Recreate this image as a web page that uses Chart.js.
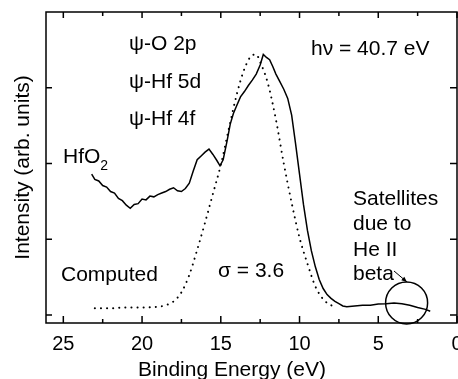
<!DOCTYPE html>
<html>
<head>
<meta charset="utf-8">
<script src="https://cdn.jsdelivr.net/npm/chart.js@4.4.1/dist/chart.umd.min.js"></script>
<style>
  body { margin: 0; background: #fff; }
</style>
</head>
<body>
<canvas id="spectrum" width="458" height="379"></canvas>
<script>
// measured HfO2 spectrum (binding energy in eV, intensity in arb. units)
const measuredEnergy = [
  23.2, 23.0, 22.75, 22.5, 22.25, 22.0, 21.75, 21.5, 21.25, 21.0,
  20.75, 20.5, 20.25, 20.0, 19.75, 19.5, 19.25, 19.0, 18.75, 18.5,
  18.25, 18.0, 17.75, 17.5, 17.25, 17.0, 16.75, 16.5, 16.25, 16.0,
  15.75, 15.5, 15.25, 15.05, 14.85, 14.6, 14.4, 14.2, 14.0, 13.75,
  13.5, 13.25, 13.0, 12.75, 12.5, 12.3, 12.1, 11.9, 11.7, 11.5,
  11.25, 11.0, 10.75, 10.5, 10.25, 10.0, 9.75, 9.5, 9.25, 9.0,
  8.75, 8.5, 8.25, 8.0, 7.75, 7.5, 7.25, 7.0, 6.5, 6.0,
  5.5, 5.0, 4.5, 4.0, 3.5, 3.0, 2.5, 2.0, 1.7
]
const measuredIntensity = [
  1.86, 1.79, 1.77, 1.71, 1.69, 1.63, 1.61, 1.54, 1.51, 1.45,
  1.41, 1.46, 1.47, 1.53, 1.52, 1.57, 1.56, 1.59, 1.61, 1.63,
  1.66, 1.68, 1.64, 1.63, 1.67, 1.74, 1.90, 2.05, 2.10, 2.15,
  2.19, 2.12, 2.04, 1.97, 2.05, 2.30, 2.52, 2.66, 2.76, 2.88,
  2.95, 3.03, 3.10, 3.18, 3.30, 3.44, 3.40, 3.37, 3.28, 3.18,
  3.08, 2.98, 2.86, 2.64, 2.26, 1.86, 1.46, 1.12, 0.85, 0.64,
  0.47, 0.35, 0.27, 0.22, 0.18, 0.15, 0.12, 0.11, 0.12, 0.13,
  0.13, 0.145, 0.15, 0.16, 0.15, 0.13, 0.10, 0.075, 0.05
]

// computed curve (sigma = 3.6)
const computedEnergy = [
  23.0, 22.0, 21.0, 20.0, 19.0, 18.5, 18.0, 17.5, 17.0, 16.5,
  16.0, 15.5, 15.0, 14.5, 14.0, 13.5, 13.0, 12.75, 12.5, 12.0,
  11.5, 11.0, 10.5, 10.0, 9.5, 9.0, 8.5, 8.0, 7.75
]
const computedIntensity = [
  0.09, 0.09, 0.10, 0.10, 0.11, 0.13, 0.18, 0.30, 0.53, 0.86,
  1.22, 1.60, 1.98, 2.45, 2.90, 3.25, 3.43, 3.44, 3.34, 3.05,
  2.58, 2.00, 1.48, 1.02, 0.68, 0.38, 0.21, 0.13, 0.12
]

const xTicks = [25, 20, 15, 10, 5, 0]
const xMinorTicks = [22.5, 17.5, 12.5, 7.5, 2.5]
const yTicks = [0, 1, 2, 3]

const FONT = '"Liberation Sans", Arial, Helvetica, sans-serif'
Chart.defaults.color = '#000'
Chart.defaults.font.family = FONT

const toPoints = (xs, ys) => xs.map((e, i) => ({ x: e, y: ys[i] }))

// box + inward ticks on all four sides
const frame = {
  id: 'frame',
  afterDraw(chart) {
    const { ctx, chartArea: a, scales: { x, y } } = chart
    ctx.save()
    ctx.strokeStyle = '#000'
    ctx.lineWidth = 1.5
    ctx.strokeRect(a.left, a.top, a.right - a.left, a.bottom - a.top)
    ctx.beginPath()
    xTicks.forEach(v => {
      const px = x.getPixelForValue(v)
      ctx.moveTo(px, a.bottom); ctx.lineTo(px, a.bottom - 7)
      ctx.moveTo(px, a.top); ctx.lineTo(px, a.top + 6)
    })
    xMinorTicks.forEach(v => {
      const px = x.getPixelForValue(v)
      ctx.moveTo(px, a.bottom); ctx.lineTo(px, a.bottom - 4)
      ctx.moveTo(px, a.top); ctx.lineTo(px, a.top + 4)
    })
    yTicks.forEach(v => {
      const py = y.getPixelForValue(v)
      ctx.moveTo(a.left, py); ctx.lineTo(a.left + 6, py)
      ctx.moveTo(a.right, py); ctx.lineTo(a.right - 7, py)
    })
    ctx.stroke()
    ctx.restore()
  }
}

// labels, circle and arrow
const notes = {
  id: 'notes',
  afterDraw(chart) {
    const { ctx, scales: { x, y } } = chart
    ctx.save()
    ctx.fillStyle = '#000'
    ctx.textBaseline = 'alphabetic'
    ctx.textAlign = 'left'
    ctx.font = '21px ' + FONT
    ctx.fillText('ψ-O 2p', 129, 50)
    ctx.fillText('ψ-Hf 5d', 129, 88)
    ctx.fillText('ψ-Hf 4f', 129, 125)
    ctx.fillText('hν = 40.7 eV', 311, 55)
    ctx.fillText('Computed', 61, 281)
    ctx.fillText('σ = 3.6', 218, 277)
    ctx.fillText('Satellites', 353, 205)
    ctx.fillText('due to', 353, 230)
    ctx.fillText('He II', 353, 256)
    ctx.fillText('beta', 353, 280)
    ctx.fillText('HfO', 63, 163)
    const w = ctx.measureText('HfO').width
    ctx.font = '14px ' + FONT
    ctx.fillText('2', 63 + w, 170)

    // x axis title
    ctx.font = '21px ' + FONT
    ctx.textAlign = 'center'
    ctx.fillText('Binding Energy (eV)', 232, 376)

    // circle around the satellites
    const cx = x.getPixelForValue(3.2)
    const cy = y.getPixelForValue(0.16)
    ctx.strokeStyle = '#000'
    ctx.lineWidth = 1.5
    ctx.beginPath()
    ctx.arc(cx, cy, 21, 0, Math.PI * 2)
    ctx.stroke()

    // arrow
    const x0 = 394, y0 = 271, x1 = 407, y1 = 282
    ctx.lineWidth = 1
    ctx.beginPath()
    ctx.moveTo(x0, y0); ctx.lineTo(x1, y1)
    ctx.stroke()
    const ang = Math.atan2(y1 - y0, x1 - x0)
    ctx.beginPath()
    ctx.moveTo(x1, y1)
    ctx.lineTo(x1 - 6 * Math.cos(ang - 0.4), y1 - 6 * Math.sin(ang - 0.4))
    ctx.lineTo(x1 - 6 * Math.cos(ang + 0.4), y1 - 6 * Math.sin(ang + 0.4))
    ctx.closePath()
    ctx.fill()
    ctx.restore()
  }
}

const ctx = document.getElementById('spectrum').getContext('2d')

const spectrum = new Chart(ctx, {
  type: 'line',
  data: {
    datasets: [{
      label: 'HfO2',
      data: toPoints(measuredEnergy, measuredIntensity),
      borderColor: '#000',
      borderWidth: 1.5,
      pointRadius: 0,
      tension: 0
    }, {
      label: 'Computed',
      data: toPoints(computedEnergy, computedIntensity),
      borderColor: '#000',
      borderWidth: 2,
      borderDash: [0.1, 6],
      borderCapStyle: 'round',
      pointRadius: 0,
      cubicInterpolationMode: 'monotone'
    }]
  },
  options: {
    responsive: false,
    animation: false,
    layout: { padding: { left: 0, top: 12, right: 1, bottom: 0 } },
    plugins: { legend: { display: false }, tooltip: { enabled: false } },
    scales: {
      x: {
        type: 'linear',
        reverse: true,
        min: 0,
        max: 26.1,
        grid: { display: false, drawTicks: false },
        border: { display: false },
        ticks: { font: { size: 20 }, padding: 9, maxRotation: 0, autoSkip: false },
        afterBuildTicks: s => { s.ticks = xTicks.map(v => ({ value: v })) },
        afterFit: s => { s.height = 56; s.paddingLeft = 0; s.paddingRight = 0 }
      },
      y: {
        min: -0.105,
        max: 4,
        grid: { display: false, drawTicks: false },
        border: { display: false },
        ticks: { display: false },
        title: {
          display: true,
          text: 'Intensity (arb. units)',
          font: { size: 21, lineHeight: 1 },
          padding: { top: 13, bottom: 0 }
        },
        afterFit: s => { s.width = 46; s.paddingTop = 0; s.paddingBottom = 0 }
      }
    }
  },
  plugins: [frame, notes]
})
</script>
</body>
</html>
